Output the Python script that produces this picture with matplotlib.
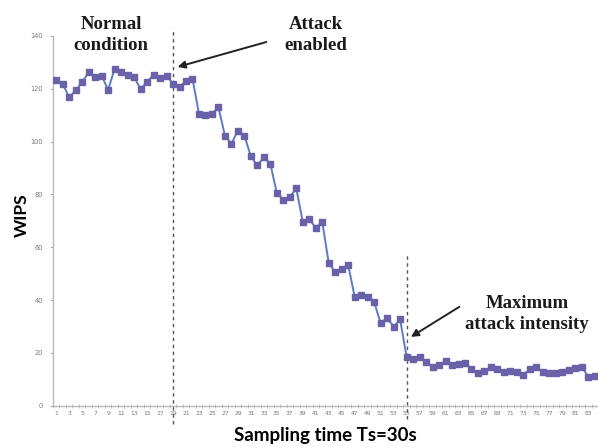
import numpy as np
import matplotlib.pyplot as plt

# WIPS readings per sampling step (Ts = 30 s)
wips = [
    123.5, 121.9, 116.8, 119.4, 122.5, 126.3, 124.4, 125.0, 119.6, 127.6,
    126.3, 125.4, 124.4, 120.0, 122.5, 125.4, 124.1, 125.0, 121.9, 120.6,
    123.1, 123.8, 110.6, 109.9, 110.6, 113.0, 102.3, 99.2, 104.2, 102.3,
    94.4, 91.0, 94.1, 91.6, 80.5, 78.0, 79.0, 82.3, 69.6, 70.6,
    67.4, 69.6, 54.0, 50.5, 51.9, 53.3, 41.2, 41.8, 41.2, 39.3,
    31.2, 33.3, 29.9, 32.7, 18.5, 17.5, 18.3, 16.6, 14.7, 15.5,
    16.8, 15.4, 15.8, 16.2, 14.0, 12.5, 13.2, 14.5, 14.0, 12.9,
    13.2, 12.8, 11.8, 13.8, 14.5, 12.8, 12.2, 12.5, 12.9, 13.4,
    14.2, 14.7, 11.0, 11.2,
]
samples = np.arange(1, len(wips) + 1)
xtick_labels = [str(i) for i in range(1, len(wips), 2)]
yticks = [0, 20, 40, 60, 80, 100, 120, 140]

attack_start = 19
attack_max = 55

fig = plt.figure(figsize=(5.98, 4.47), dpi=100)
ax = fig.add_axes([0.0886, 0.0924, 0.9114, 0.8271])

ax.plot(samples, wips, color='#5b7cc4', lw=1.4, marker='s', ms=4.4,
        mfc='#6a62a8', mec='#6a62a8', zorder=3)

ax.set_xlim(0.5, 84.3)
ax.set_ylim(0, 140)
ax.set_yticks(yticks)
ax.set_xticks(range(1, len(wips), 2))
ax.set_xticklabels(xtick_labels)
ax.set_xticks(np.arange(0.5, len(wips) + 1, 1), minor=True)

for s in ['top', 'right']:
    ax.spines[s].set_visible(False)
for s in ['left', 'bottom']:
    ax.spines[s].set_color('#b8b8b8')
    ax.spines[s].set_linewidth(1.0)

ax.tick_params(axis='y', labelsize=4.8, colors='#b0b0b0', labelcolor='#777777',
               length=2, pad=5)
ax.tick_params(axis='x', which='major', labelsize=4.3, labelcolor='#777777',
               length=0, pad=4)
ax.tick_params(axis='x', which='minor', length=3, direction='inout',
               color='#b8b8b8')

# dashed markers for attack start and maximum intensity
ax.plot([attack_start, attack_start], [-7, 143], color='#555555', lw=1.0,
        ls=(0, (2.5, 2.5)), clip_on=False, zorder=2)
ax.plot([attack_max, attack_max], [-5, 57], color='#555555', lw=1.0,
        ls=(0, (2.5, 2.5)), clip_on=False, zorder=2)

serif = dict(family='Liberation Serif', fontweight='bold', fontsize=13.5,
             color='#1a1a1a', linespacing=1.3, ha='center', va='center')
fig.text(111 / 598, 1 - 35 / 447, 'Normal\ncondition', **serif)
fig.text(316 / 598, 1 - 35 / 447, 'Attack\nenabled', **serif)
fig.text(527 / 598, 1 - 314 / 447, 'Maximum\nattack intensity', **serif)

ax.annotate('', xy=(19.3, 128), xytext=(33.8, 138),
            arrowprops=dict(arrowstyle='-|>', color='#222222', lw=1.4,
                            mutation_scale=11))
ax.annotate('', xy=(55.3, 25.5), xytext=(63.5, 38),
            arrowprops=dict(arrowstyle='-|>', color='#222222', lw=1.4,
                            mutation_scale=11))

fig.text(22 / 598, 1 - 215 / 447, 'WIPS', family='Lato', fontweight='bold',
         fontsize=12.5, rotation=90, ha='center', va='center')
fig.text(325 / 598, 1 - 436 / 447, 'Sampling time Ts=30s', family='Lato',
         fontweight='bold', fontsize=13.5, ha='center', va='center')

fig.savefig('out.png', dpi=100)
